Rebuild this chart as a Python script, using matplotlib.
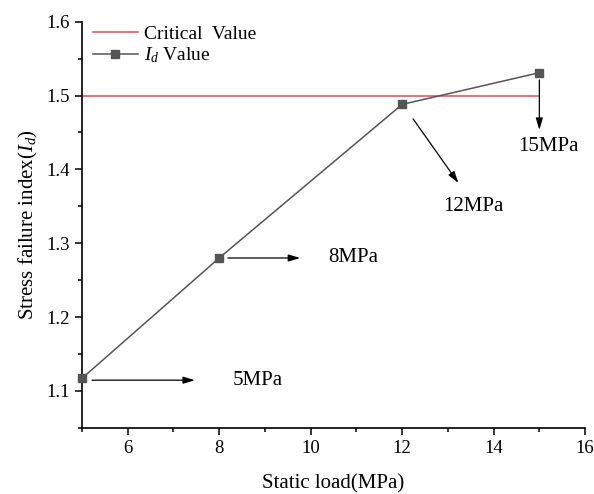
import numpy as np
import matplotlib
matplotlib.use("Agg")
import matplotlib.pyplot as plt
from matplotlib.ticker import MultipleLocator

plt.rcParams["font.family"] = ["Liberation Serif", "DejaVu Serif"]
plt.rcParams["mathtext.fontset"] = "custom"
plt.rcParams["mathtext.it"] = "Liberation Serif:italic"
plt.rcParams["mathtext.rm"] = "Liberation Serif"

# Static load vs. stress failure index
load = [5, 8, 12, 15]
index_d = [1.117, 1.28, 1.488, 1.531]
critical_x = [5, 15]
critical_y = [1.5, 1.5]
point_labels = ["5MPa", "8MPa", "12MPa", "15MPa"]

fig = plt.figure(figsize=(5.94, 4.94), dpi=100)
ax = fig.add_axes([0.138, 0.134, 0.847, 0.822])

ax.plot(critical_x, critical_y, color="#e8474f", lw=1.1, label="Critical  Value")
ax.plot(load, index_d, color="#555555", lw=1.1, marker="s", markersize=6,
        markerfacecolor="#555555", markeredgecolor="#555555",
        label=r"$I_d$ Value", clip_on=False, zorder=3)

arrow = dict(arrowstyle="-|>,head_length=0.5,head_width=0.15", color="black",
             lw=0.9, mutation_scale=14, shrinkA=0, shrinkB=0)
# arrows pointing from each point to its label
ax.annotate("", xy=(7.47, 1.1145), xytext=(5.22, 1.1145), arrowprops=arrow)
ax.text(8.30, 1.1145, point_labels[0], fontsize=15, va="center", ha="left")
ax.annotate("", xy=(9.77, 1.28), xytext=(8.19, 1.28), arrowprops=arrow)
ax.text(10.38, 1.28, point_labels[1], fontsize=15, va="center", ha="left")
ax.annotate("", xy=(13.23, 1.3816), xytext=(12.24, 1.4684), arrowprops=arrow)
ax.text(13.56, 1.350, point_labels[2], fontsize=15, va="center", ha="center")
ax.annotate("", xy=(15.0, 1.4535), xytext=(15.0, 1.521), arrowprops=arrow)
ax.text(15.2, 1.4305, point_labels[3], fontsize=15, va="center", ha="center")

ax.set_xlim(5, 16)
ax.set_ylim(1.05, 1.6)
ax.xaxis.set_minor_locator(MultipleLocator(1))
ax.yaxis.set_minor_locator(MultipleLocator(0.05))
ax.set_yticks([1.1, 1.2, 1.3, 1.4, 1.5, 1.6])
ax.set_xticks([6, 8, 10, 12, 14, 16])

for side in ["top", "right"]:
    ax.spines[side].set_visible(False)
for side in ["left", "bottom"]:
    ax.spines[side].set_linewidth(1.2)

ax.tick_params(which="major", direction="out", length=5, width=1.1, labelsize=13.5)
ax.tick_params(which="minor", direction="out", length=3, width=1.1)

ax.set_xlabel("Static load(MPa)", fontsize=15, labelpad=13)
ax.set_ylabel(r"Stress failure index($I_d$)", fontsize=15, labelpad=5)

ax.legend(loc="upper left", bbox_to_anchor=(-0.005, 1.025), frameon=False,
          fontsize=14, handlelength=2.3, handletextpad=0.3, labelspacing=0.15,
          borderaxespad=0.3)

fig.savefig("out.png", dpi=100)
